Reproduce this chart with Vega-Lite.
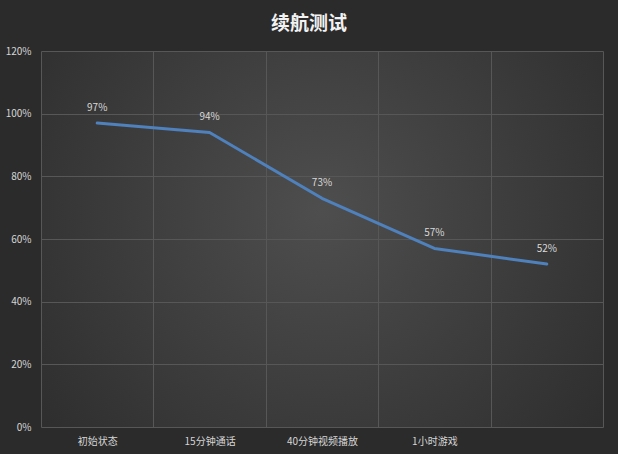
{
  "$schema": "https://vega.github.io/schema/vega-lite/v6.json",
  "width": 562,
  "height": 376,
  "autosize": {"type": "none"},
  "padding": {"left": 41, "top": 51, "right": 15, "bottom": 27},
  "background": "#2b2b2b",
  "title": {
    "text": "续航测试",
    "font": "Noto Sans CJK SC",
    "fontSize": 19,
    "fontWeight": "bold",
    "color": "#f2f2f2",
    "anchor": "middle",
    "dx": -13,
    "offset": 12
  },
  "data": {
    "values": [
      {"stage": "初始状态", "level": 0.97},
      {"stage": "15分钟通话", "level": 0.94},
      {"stage": "40分钟视频播放", "level": 0.73},
      {"stage": "1小时游戏", "level": 0.57},
      {"stage": " ", "level": 0.52}
    ]
  },
  "encoding": {
    "x": {
      "field": "stage",
      "type": "ordinal",
      "sort": null,
      "scale": {"type": "band", "paddingInner": 0, "paddingOuter": 0},
      "bandPosition": 0.5,
      "axis": {
        "title": null,
        "labelAngle": 0,
        "tickBand": "extent",
        "grid": true,
        "gridColor": "#575757",
        "gridWidth": 1,
        "domain": false,
        "ticks": false,
        "labelPadding": 9,
        "labelFont": "Noto Sans CJK SC",
        "labelFontSize": 10,
        "labelColor": "#d6d6d6"
      }
    },
    "y": {
      "field": "level",
      "type": "quantitative",
      "scale": {"domain": [0, 1.2], "nice": false},
      "axis": {
        "title": null,
        "format": ".0%",
        "values": [0, 0.2, 0.4, 0.6, 0.8, 1.0, 1.2],
        "grid": true,
        "gridColor": "#575757",
        "gridWidth": 1,
        "domain": false,
        "ticks": false,
        "labelPadding": 10,
        "labelFont": "Noto Sans CJK SC",
        "labelFontSize": 10,
        "labelColor": "#d6d6d6"
      }
    }
  },
  "layer": [
    {
      "mark": {"type": "line", "color": "#4f81bd", "strokeWidth": 3, "strokeCap": "round", "strokeJoin": "round"}
    },
    {
      "mark": {"type": "text", "dy": -15, "font": "Noto Sans CJK SC", "fontSize": 10, "color": "#d9d9d9"},
      "encoding": {
        "text": {"field": "level", "type": "quantitative", "format": ".0%"}
      }
    }
  ],
  "config": {
    "view": {
      "stroke": null,
      "fill": {
        "gradient": "radial",
        "x1": 0.5, "y1": 0.45, "r1": 0,
        "x2": 0.5, "y2": 0.45, "r2": 0.75,
        "stops": [
          {"offset": 0, "color": "#4e4e4e"},
          {"offset": 1, "color": "#282828"}
        ]
      }
    }
  }
}
